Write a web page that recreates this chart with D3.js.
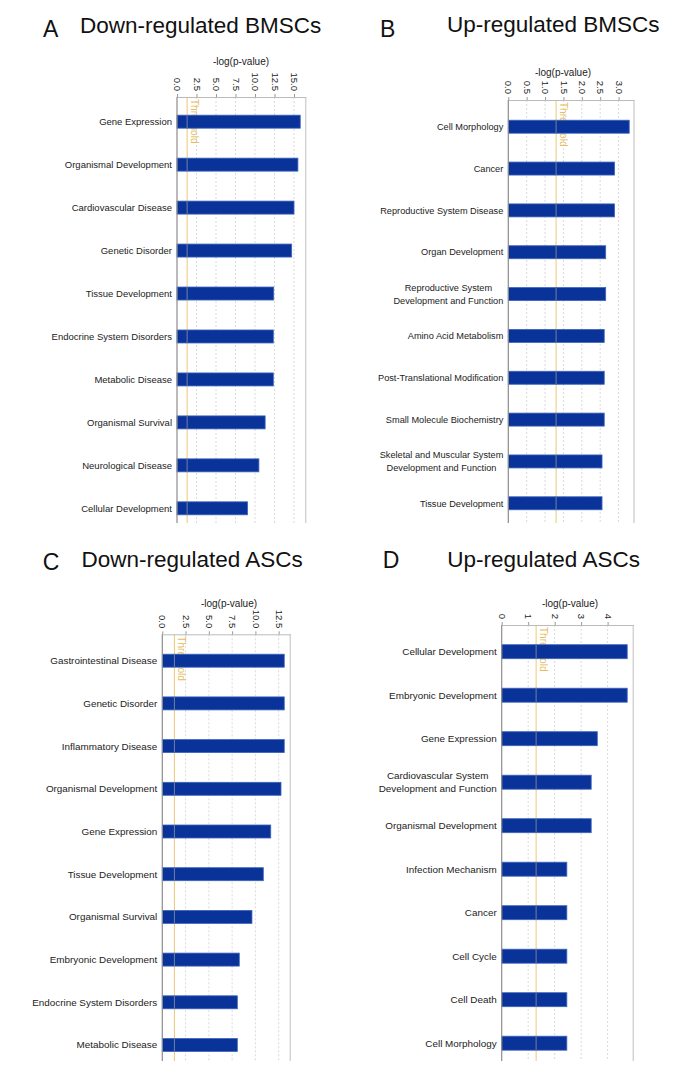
<!DOCTYPE html>
<html>
<head>
<meta charset="utf-8">
<script src="https://cdn.jsdelivr.net/npm/d3@7"></script>
<style>
  html, body { margin: 0; padding: 0; background: #ffffff; }
  svg { display: block; }
</style>
</head>
<body>
<svg id="chart" width="685" height="1079"></svg>
<script>
// ---------- DATA ----------
const threshold = 1.3;

const catsA = ["Gene Expression", "Organismal Development", "Cardiovascular Disease", "Genetic Disorder",
  "Tissue Development", "Endocrine System Disorders", "Metabolic Disease", "Organismal Survival",
  "Neurological Disease", "Cellular Development"];
const valsA = [15.8, 15.5, 15.0, 14.7, 12.4, 12.35, 12.35, 11.3, 10.5, 9.05];
const ticksA = [0, 2.5, 5, 7.5, 10, 12.5, 15];

const catsB = ["Cell Morphology", "Cancer", "Reproductive System Disease", "Organ Development",
  "Reproductive System\nDevelopment and Function", "Amino Acid Metabolism", "Post-Translational Modification",
  "Small Molecule Biochemistry", "Skeletal and Muscular System\nDevelopment and Function", "Tissue Development"];
const valsB = [3.29, 2.89, 2.89, 2.65, 2.65, 2.61, 2.61, 2.61, 2.55, 2.55];
const ticksB = [0, 0.5, 1.0, 1.5, 2.0, 2.5, 3.0];

const catsC = ["Gastrointestinal Disease", "Genetic Disorder", "Inflammatory Disease", "Organismal Development",
  "Gene Expression", "Tissue Development", "Organismal Survival", "Embryonic Development",
  "Endocrine System Disorders", "Metabolic Disease"];
const valsC = [13.1, 13.1, 13.1, 12.75, 11.65, 10.85, 9.63, 8.27, 8.06, 8.06];
const ticksC = [0, 2.5, 5, 7.5, 10, 12.5];

const catsD = ["Cellular Development", "Embryonic Development", "Gene Expression",
  "Cardiovascular System\nDevelopment and Function", "Organismal Development", "Infection Mechanism",
  "Cancer", "Cell Cycle", "Cell Death", "Cell Morphology"];
const valsD = [4.74, 4.74, 3.61, 3.38, 3.38, 2.46, 2.46, 2.46, 2.46, 2.46];
const ticksD = [0, 1, 2, 3, 4];

const panelLetters = ["A", "B", "C", "D"];
const panelTitles = ["Down-regulated BMSCs", "Up-regulated BMSCs", "Down-regulated ASCs", "Up-regulated ASCs"];
const axisTitle = "-log(p-value)";
const thresholdLabel = "Threshold";

// ---------- LAYOUT ----------
const layouts = [
  { max: 16.5, x0: 177, x1: 305.7, top: 97, bottom: 523, band: [100.2, 529.8], barH: 13, fs: 9.5,
    titleX: 241, titleY: 64.5, fmt: d3.format(".1f"),
    letter: [43, 36.7], heading: [80, 33.3] },
  { max: 3.42, x0: 508.3, x1: 634, top: 100, bottom: 523, band: [105.8, 524.2], barH: 13, fs: 9.2,
    titleX: 563, titleY: 76, fmt: d3.format(".1f"),
    letter: [380, 36.7], heading: [447, 31.7] },
  { max: 13.75, x0: 162.3, x1: 290.3, top: 634.3, bottom: 1061, band: [639.35, 1066.35], barH: 13, fs: 9.9,
    titleX: 229, titleY: 606.5, fmt: d3.format(".1f"),
    letter: [42.7, 570], heading: [81.5, 566.7] },
  { max: 4.97, x0: 501.7, x1: 633.3, top: 625, bottom: 1061, band: [629.95, 1064.95], barH: 14, fs: 9.9,
    titleX: 570, titleY: 606.5, fmt: d3.format("d"),
    letter: [382.7, 568.3], heading: [447.3, 566.7] }
];

const datasets = [
  [catsA, valsA, ticksA], [catsB, valsB, ticksB], [catsC, valsC, ticksC], [catsD, valsD, ticksD]
];

const svg = d3.select("#chart");
const FONT = "'Liberation Sans', Arial, sans-serif";
const BAR = "#0a3399";
const THR = "#ecc878";

datasets.forEach(([cats, vals, ticks], i) => {
  const L = layouts[i];
  const g = svg.append("g");
  const x = d3.scaleLinear().domain([0, L.max]).range([L.x0, L.x1]);
  const y = d3.scaleBand().domain(cats).range(L.band);
  const rows = cats.map((c, j) => ({ c, v: vals[j] }));

  // headings
  g.append("text").attr("x", L.letter[0]).attr("y", L.letter[1])
    .attr("font-family", FONT).attr("font-size", 23).attr("fill", "#111").text(panelLetters[i]);
  g.append("text").attr("x", L.heading[0]).attr("y", L.heading[1])
    .attr("font-family", FONT).attr("font-size", 22.5).attr("fill", "#111").text(panelTitles[i]);

  // gridlines
  g.selectAll("line.grid").data(ticks.filter(t => t > 0)).join("line")
    .attr("class", "grid")
    .attr("x1", d => x(d)).attr("x2", d => x(d))
    .attr("y1", L.top).attr("y2", L.bottom)
    .attr("stroke", "#dadada").attr("stroke-width", 1).attr("stroke-dasharray", "2,2");

  // right border
  g.append("line").attr("x1", L.x1).attr("x2", L.x1).attr("y1", L.top).attr("y2", L.bottom)
    .attr("stroke", "#d4d4d4").attr("stroke-width", 1.5);

  // threshold line + label
  g.append("line").attr("x1", x(threshold)).attr("x2", x(threshold))
    .attr("y1", L.top).attr("y2", L.bottom)
    .attr("stroke", THR).attr("stroke-width", 1);
  g.append("text")
    .attr("transform", `translate(${x(threshold) + 1.5},${L.top + 2}) rotate(90)`)
    .attr("font-family", FONT).attr("font-size", 10).attr("fill", "#e6bd5c")
    .attr("dy", "-0.2em")
    .text(thresholdLabel);

  // bars
  g.selectAll("rect.bar").data(rows).join("rect")
    .attr("class", "bar")
    .attr("x", x(0))
    .attr("y", d => y(d.c) + y.bandwidth() / 2 - L.barH / 2)
    .attr("width", d => x(d.v) - x(0))
    .attr("height", L.barH)
    .attr("fill", BAR).attr("stroke", "#3c64bd").attr("stroke-width", 0.8);

  // threshold line visible across the bars
  g.selectAll("line.thr").data(rows).join("line")
    .attr("class", "thr")
    .attr("x1", x(threshold)).attr("x2", x(threshold))
    .attr("y1", d => y(d.c) + y.bandwidth() / 2 - L.barH / 2)
    .attr("y2", d => y(d.c) + y.bandwidth() / 2 + L.barH / 2)
    .attr("stroke", "#6f7fa8").attr("stroke-width", 1);

  // top axis
  const ax = g.append("g").attr("transform", `translate(0,${L.top})`)
    .call(d3.axisTop(x).tickValues(ticks).tickFormat(L.fmt).tickSize(3).tickSizeOuter(0));
  ax.select(".domain").attr("stroke", "#bbbbbb");
  ax.selectAll(".tick line").attr("stroke", "#999");
  ax.selectAll(".tick text")
    .attr("x", -6).attr("y", 0).attr("dy", "0.35em")
    .attr("transform", "rotate(90)")
    .style("text-anchor", "end")
    .attr("font-family", FONT).attr("font-size", 9.5).attr("fill", "#222");

  // left axis line
  g.append("line").attr("x1", L.x0).attr("x2", L.x0).attr("y1", L.top).attr("y2", L.bottom)
    .attr("stroke", "#8c8c8c").attr("stroke-width", 1.2);

  // axis title
  g.append("text").attr("x", L.titleX).attr("y", L.titleY).attr("text-anchor", "middle")
    .attr("font-family", FONT).attr("font-size", 10).attr("fill", "#222").text(axisTitle);

  // category labels
  const rightEdge = L.x0 - 5;
  cats.forEach(c => {
    const lines = c.split("\n");
    const cy = y(c) + y.bandwidth() / 2;
    const lh = 12.5;
    const t = g.append("text").attr("font-family", FONT).attr("font-size", L.fs).attr("fill", "#222");
    const spans = lines.map((ln, k) => t.append("tspan")
      .attr("y", cy + (k - (lines.length - 1) / 2) * lh)
      .attr("dy", "0.35em").text(ln));
    if (lines.length === 1) {
      t.attr("text-anchor", "end");
      spans[0].attr("x", rightEdge);
    } else {
      const w = d3.max(spans, s => s.node().getComputedTextLength());
      t.attr("text-anchor", "middle");
      spans.forEach(s => s.attr("x", rightEdge - w / 2));
    }
  });
});
</script>
</body>
</html>
